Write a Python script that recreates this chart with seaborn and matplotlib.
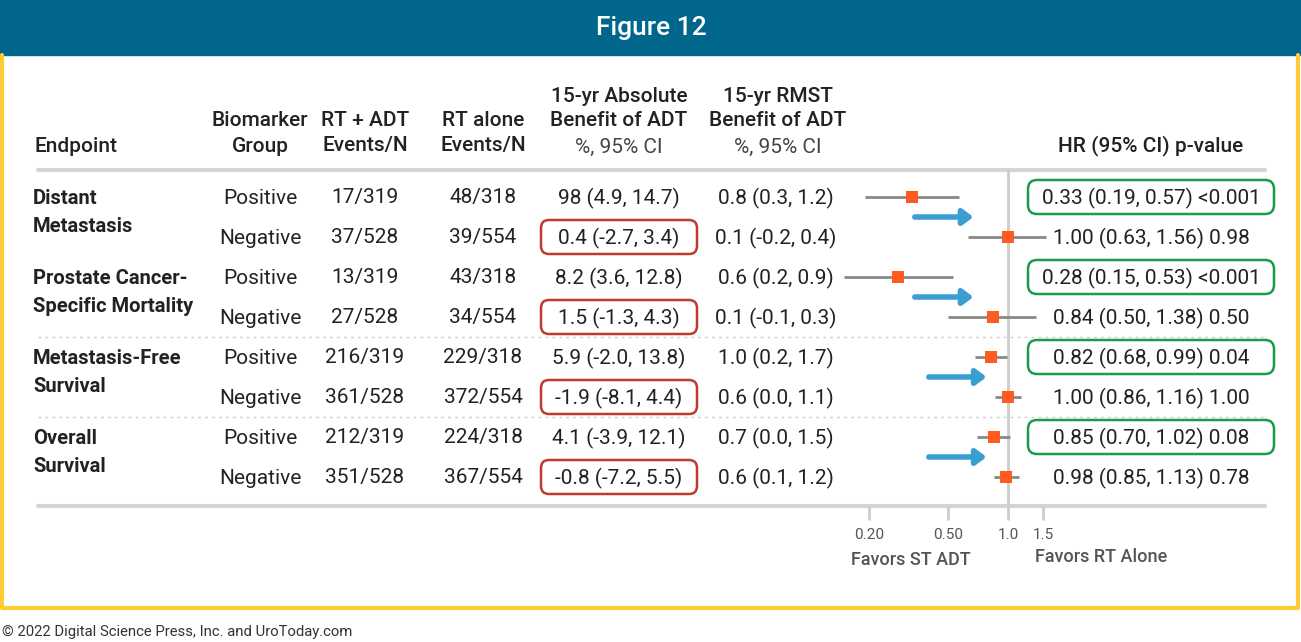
import numpy as np
import pandas as pd
import matplotlib.pyplot as plt
import seaborn as sb
from matplotlib.patches import FancyBboxPatch, Rectangle

sb.set_style('white')
plt.rcParams['font.family'] = ['Roboto', 'DejaVu Sans']

# table data
endpoints = ['Distant\nMetastasis', 'Prostate Cancer-\nSpecific Mortality',
             'Metastasis-Free\nSurvival', 'Overall\nSurvival']
groups = ['Positive', 'Negative'] * 4
rt_adt = ['17/319', '37/528', '13/319', '27/528', '216/319', '361/528', '212/319', '351/528']
rt_alone = ['48/318', '39/554', '43/318', '34/554', '229/318', '372/554', '224/318', '367/554']
abs_benefit = ['98 (4.9, 14.7)', '0.4 (-2.7, 3.4)', '8.2 (3.6, 12.8)', '1.5 (-1.3, 4.3)',
               '5.9 (-2.0, 13.8)', '-1.9 (-8.1, 4.4)', '4.1 (-3.9, 12.1)', '-0.8 (-7.2, 5.5)']
rmst_benefit = ['0.8 (0.3, 1.2)', '0.1 (-0.2, 0.4)', '0.6 (0.2, 0.9)', '0.1 (-0.1, 0.3)',
                '1.0 (0.2, 1.7)', '0.6 (0.0, 1.1)', '0.7 (0.0, 1.5)', '0.6 (0.1, 1.2)']
hr = [0.33, 1.00, 0.28, 0.84, 0.82, 1.00, 0.85, 0.98]
hr_lo = [0.19, 0.63, 0.15, 0.50, 0.68, 0.86, 0.70, 0.85]
hr_hi = [0.57, 1.56, 0.53, 1.38, 0.99, 1.16, 1.02, 1.13]
pvals = ['<0.001', '0.98', '<0.001', '0.50', '0.04', '1.00', '0.08', '0.78']
# blue arrows between each pair of rows (HR scale)
arrow_from = [0.34, 0.34, 0.40, 0.40]
arrow_to = [0.67, 0.67, 0.78, 0.78]
ticks = [0.20, 0.50, 1.0, 1.5]
tick_labels = ['0.20', '0.50', '1.0', '1.5']

W, H = 1301, 642
fig = plt.figure(figsize=(W / 100, H / 100), dpi=100)
bg = fig.add_axes([0, 0, 1, 1])
bg.set_xlim(0, W)
bg.set_ylim(H, 0)
bg.axis('off')

# banner + frame
bg.add_patch(Rectangle((0, 0), W, 55, color='#00668c', zorder=1))
bg.text(651, 28, 'Figure 12', color='white', fontsize=19, fontweight='medium',
        ha='center', va='center')
bg.plot([1.5, 1.5, 1297.5, 1297.5], [55, 608, 608, 55], color='#ffcc33', lw=3, zorder=1)
bg.text(2, 632, '\u00a9 2022 Digital Science Press, Inc. and UroToday.com', fontsize=10.7,
        color='#333333', ha='left', va='center')

hdr = dict(fontsize=15, color='#222222', fontweight='medium', ha='center', va='center')
sub = dict(fontsize=15, color='#444444', fontweight='normal', ha='center', va='center')
bg.text(34, 146, 'Endpoint', **{**hdr, 'ha': 'left'})
bg.text(260, 121, 'Biomarker', **hdr)
bg.text(260, 146, 'Group', **hdr)
bg.text(365, 121, 'RT + ADT', **hdr)
bg.text(365, 146, 'Events/N', **hdr)
bg.text(483, 121, 'RT alone', **hdr)
bg.text(483, 146, 'Events/N', **hdr)
bg.text(619, 96, '15-yr Absolute', **hdr)
bg.text(619, 121, 'Benefit of ADT', **hdr)
bg.text(619, 147, '%, 95% CI', **sub)
bg.text(778, 96, '15-yr RMST', **hdr)
bg.text(778, 121, 'Benefit of ADT', **hdr)
bg.text(778, 147, '%, 95% CI', **sub)
bg.text(1151, 146, 'HR (95% CI) p-value', **hdr)

bg.plot([38, 1265], [170, 170], color='#d4d4d4', lw=3)
bg.plot([38, 1265], [506, 506], color='#d4d4d4', lw=3)
for y in [337, 417]:
    bg.plot([38, 1265], [y, y], color='#cccccc', lw=1, ls=(0, (2, 3)))

row_y = 197 + 40 * np.arange(8)
cell = dict(fontsize=15, color='#222222', ha='center', va='center')
for i, name in enumerate(endpoints):
    bg.text(33, row_y[2 * i] + 15, name, fontsize=14.5, fontweight='bold', color='#222222',
            ha='left', va='center', linespacing=1.6)
for i, y in enumerate(row_y):
    ty = y + 1
    bg.text(260, ty, groups[i], **cell)
    bg.text(365, ty, rt_adt[i], **cell)
    bg.text(483, ty, rt_alone[i], **cell)
    bg.text(619, ty, abs_benefit[i], **cell)
    bg.text(776, ty, rmst_benefit[i], **cell)
    bg.text(1151, ty, f'{hr[i]:.2f} ({hr_lo[i]:.2f}, {hr_hi[i]:.2f}) {pvals[i]}', **cell)
    if i % 2 == 1:
        bg.add_patch(FancyBboxPatch((541, y - 17), 156, 34,
                                    boxstyle='round,pad=0,rounding_size=8',
                                    fc='none', ec='#c0392b', lw=1.8))
    else:
        bg.add_patch(FancyBboxPatch((1028, y - 17), 246, 34,
                                    boxstyle='round,pad=0,rounding_size=9',
                                    fc='none', ec='#1e9a4a', lw=1.8))

bg.text(911, 560, 'Favors ST ADT', fontsize=13, fontweight='medium', color='#555555',
        ha='center', va='center')
bg.text(1035, 557, 'Favors RT Alone', fontsize=13, fontweight='medium', color='#555555',
        ha='left', va='center')

# forest plot, log scale, pixel aligned
x0, x1, y0, y1 = 830, 1100, 170, 506
px_per = 86.4
ax = fig.add_axes([x0 / W, (H - y1) / H, (x1 - x0) / W, (y1 - y0) / H])
ax.patch.set_alpha(0)
ax.set_xscale('log')
ax.set_xlim(np.exp((x0 - 1008) / px_per), np.exp((x1 - 1008) / px_per))
ax.set_ylim(y1, y0)
for s in ax.spines.values():
    s.set_visible(False)

df = pd.DataFrame({'hr': hr, 'lo': hr_lo, 'hi': hr_hi, 'y': row_y})
ax.axvline(1.0, color='#cccccc', lw=2, zorder=1)
ax.hlines(df['y'], df['lo'], df['hi'], color='#888888', lw=2, zorder=2)
sb.scatterplot(data=df, x='hr', y='y', marker='s', s=70, color='#ff5a1f',
               edgecolor='none', zorder=3, ax=ax, legend=False)
for i in range(4):
    ya = row_y[2 * i] + 20
    ax.annotate('', xy=(arrow_to[i], ya), xytext=(arrow_from[i], ya),
                arrowprops=dict(arrowstyle='-|>,head_length=0.6,head_width=0.45',
                                color='#3a9fd0', lw=4, shrinkA=0, shrinkB=0))
ax.set_xticks(ticks)
ax.set_xticklabels(tick_labels)
ax.minorticks_off()
ax.set_yticks([])
ax.set_xlabel('')
ax.set_ylabel('')
ax.tick_params(axis='x', length=10, width=2, color='#cccccc', labelcolor='#555555',
               labelsize=11, pad=6, bottom=True)

fig.savefig('out.png', dpi=100)
